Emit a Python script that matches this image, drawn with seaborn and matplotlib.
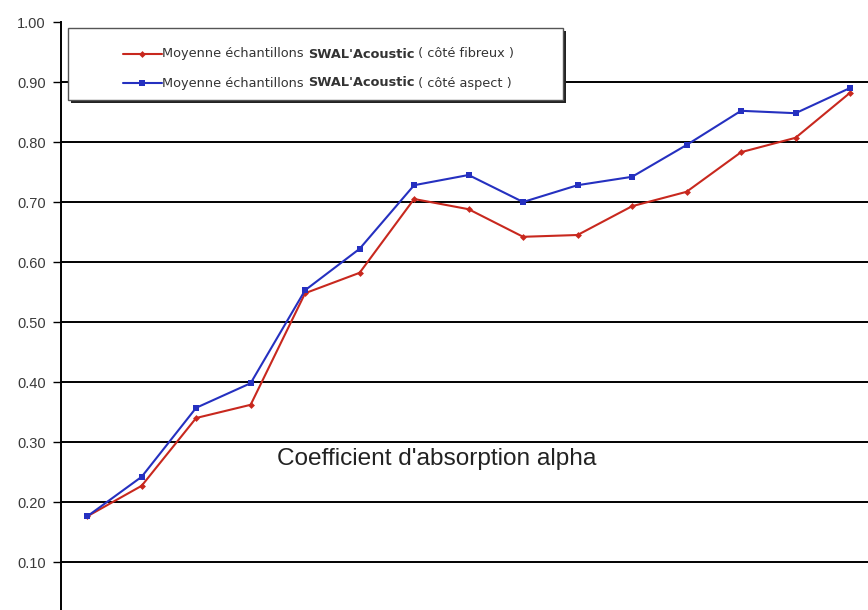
import matplotlib
matplotlib.use("Agg")
import matplotlib.pyplot as plt
import matplotlib.patheffects as pe
from matplotlib.lines import Line2D
from matplotlib.patches import Rectangle
from matplotlib.offsetbox import AnchoredOffsetbox, DrawingArea, HPacker, TextArea
import pandas as pd
import seaborn as sns

# 1/3 octave bands (Hz) - x labels are cropped out of the original picture
frequencies = ["100", "125", "160", "200", "250", "315", "400", "500",
               "630", "800", "1000", "1250", "1600", "2000", "2500"]
cote_fibreux = [0.176, 0.227, 0.340, 0.362, 0.548, 0.582, 0.705, 0.688,
                0.642, 0.645, 0.693, 0.717, 0.783, 0.807, 0.882]
cote_aspect = [0.176, 0.242, 0.357, 0.398, 0.553, 0.622, 0.728, 0.745,
               0.700, 0.728, 0.742, 0.795, 0.852, 0.848, 0.890]
y_ticks = [0.0, 0.1, 0.2, 0.3, 0.4, 0.5, 0.6, 0.7, 0.8, 0.9, 1.0]

RED = "#c8281e"
BLUE = "#2530c0"

sns.set_style("white")
plt.rcParams["font.family"] = ["Liberation Sans", "DejaVu Sans"]

W, H = 868, 610
fig = plt.figure(figsize=(W / 100, H / 100), dpi=100)
ax = fig.add_axes([61 / W, (H - 622) / H, (W - 61) / W, 600 / H])

df = pd.DataFrame({"freq": frequencies, "fibreux": cote_fibreux, "aspect": cote_aspect})

for y in y_ticks[:-1]:
  ax.axhline(y, color="black", lw=1.4, zorder=0)

sns.lineplot(data=df, x="freq", y="fibreux", ax=ax, color=RED, lw=1.5,
             marker="D", markersize=3.5, markeredgewidth=0, sort=False)
sns.lineplot(data=df, x="freq", y="aspect", ax=ax, color=BLUE, lw=1.5,
             marker="s", markersize=4.5, markeredgewidth=0, sort=False)

ax.set_xlim(-0.48, 14.33)
ax.set_ylim(0, 1.0)
ax.set_yticks(y_ticks)
# the 0.00 label sits below the cropped bottom edge
ax.set_yticklabels([""] + [f"{v:.2f}" for v in y_ticks[1:]], fontsize=10.5, color="#3a3a3a")
ax.set_xticks([])
ax.set_xlabel("")
ax.set_ylabel("")
ax.tick_params(axis="y", length=6, width=1, color="black", left=True, pad=5)
for s in ["top", "right", "bottom"]:
  ax.spines[s].set_visible(False)
ax.spines["left"].set_color("black")
ax.spines["left"].set_linewidth(1.4)

ax.text(437 / W, 1 - 459 / H, "Coefficient d'absorption alpha", transform=fig.transFigure,
        ha="center", va="center", fontsize=17.6, color="#222222")

# legend box with shadow
frame = Rectangle((68 / W, 1 - 100 / H), (563 - 68) / W, 72 / H, transform=fig.transFigure,
                  facecolor="white", edgecolor="#555555", lw=1, zorder=5)
frame.set_path_effects([pe.SimplePatchShadow(offset=(2, -2), shadow_rgbFace="#222222", alpha=1),
                        pe.Normal()])
fig.add_artist(frame)


def legend_row(color, marker, msize, side, ypix):
  # DrawingArea works in points (1 pt = 1.39 px here)
  da = DrawingArea(28, 8, 0, 0)
  da.add_artist(Line2D([0, 28], [4, 4], color=color, lw=1.5))
  da.add_artist(Line2D([14], [4], color=color, marker=marker, markersize=msize, markeredgewidth=0))
  kw = dict(fontsize=9.3, color="#333333", family="DejaVu Sans")
  parts = [da,
           TextArea("Moyenne échantillons ", textprops=kw),
           TextArea("SWAL'Acoustic", textprops=dict(kw, fontweight="bold")),
           TextArea(f" ( {side} )", textprops=kw)]
  row = HPacker(children=parts, align="center", pad=0, sep=0)
  box = AnchoredOffsetbox(loc="center left", child=row, pad=0, borderpad=0, frameon=False,
                          bbox_to_anchor=(123 / W, 1 - ypix / H), bbox_transform=fig.transFigure)
  box.set_zorder(6)
  fig.add_artist(box)


legend_row(RED, "D", 3.5, "côté fibreux", 54)
legend_row(BLUE, "s", 4.5, "côté aspect", 83)

plt.savefig("out.png", dpi=100)
